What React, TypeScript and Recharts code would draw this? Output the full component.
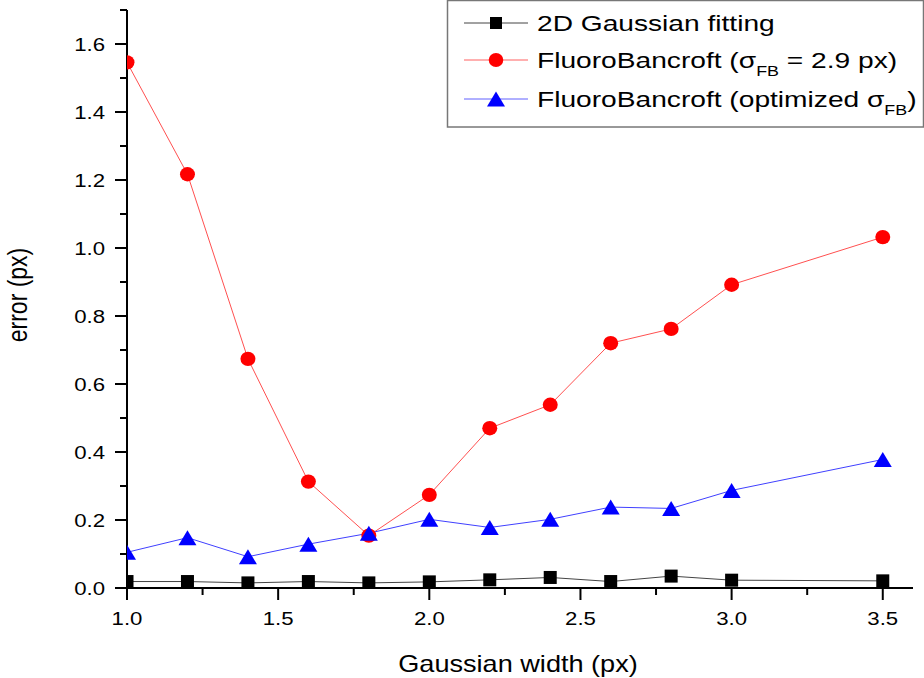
import { LineChart, Line, XAxis, YAxis, Legend } from 'recharts'

// Gaussian width (px) of the simulated spots
const widths = [1.0, 1.2, 1.4, 1.6, 1.8, 2.0, 2.2, 2.4, 2.6, 2.8, 3.0, 3.5]

// localisation error (px) for each method
const gaussFit = [0.019, 0.019, 0.015, 0.019, 0.015, 0.018, 0.024, 0.031, 0.019, 0.035, 0.023, 0.021]
const fbFixed = [1.546, 1.217, 0.674, 0.313, 0.154, 0.274, 0.47, 0.539, 0.72, 0.762, 0.892, 1.032]
const fbOptimized = [0.105, 0.148, 0.092, 0.129, 0.161, 0.202, 0.178, 0.202, 0.238, 0.234, 0.287, 0.378]

const xTicks = [1.0, 1.25, 1.5, 1.75, 2.0, 2.25, 2.5, 2.75, 3.0, 3.25, 3.5]
const yTicks = [0, 0.1, 0.2, 0.3, 0.4, 0.5, 0.6, 0.7, 0.8, 0.9, 1.0, 1.1, 1.2, 1.3, 1.4, 1.5, 1.6, 1.7]

const rows = widths.map((w, i) => ({
  w,
  gauss: gaussFit[i],
  fixed: fbFixed[i],
  optimized: fbOptimized[i],
}))

const W = 924
const H = 678
const M = { top: 10, right: 11, bottom: 0, left: 0 }
const Y_AXIS_W = 127
const X_AXIS_H = 90
const PLOT = {
  x: M.left + Y_AXIS_W,
  y: M.top,
  w: W - M.left - M.right - Y_AXIS_W,
  h: H - M.top - M.bottom - X_AXIS_H,
}

const FONT = '"Liberation Sans", Arial, sans-serif'
const STRETCH = 1.2
const CLIP = 'url(#plot-clip)'

const isMajor = (v: number, step: number) => Math.abs(v / step - Math.round(v / step)) < 1e-6

function XTick(props: any) {
  const { x, y, payload } = props
  const major = isMajor(payload.value, 0.5)
  return (
    <g>
      <line x1={x} x2={x} y1={y} y2={y + (major ? 12 : 7)} stroke="#000" strokeWidth={2} />
      {major && (
        <g transform={`translate(${x}, ${y + 37}) scale(${STRETCH}, 1)`}>
          <text x={0} y={0} textAnchor="middle" fontSize={18.5} fontFamily={FONT} fill="#000">
            {payload.value.toFixed(1)}
          </text>
        </g>
      )}
    </g>
  )
}

function YTick(props: any) {
  const { x, y, payload } = props
  const major = isMajor(payload.value, 0.2)
  return (
    <g>
      <line x1={x - (major ? 12 : 7)} x2={x} y1={y} y2={y} stroke="#000" strokeWidth={2} />
      {major && (
        <g transform={`translate(${x - 22}, ${y + 6.5}) scale(${STRETCH}, 1)`}>
          <text x={0} y={0} textAnchor="end" fontSize={18.5} fontFamily={FONT} fill="#000">
            {payload.value.toFixed(1)}
          </text>
        </g>
      )}
    </g>
  )
}

// marker shapes; sizes are fixed here so the chart's default dot radius is ignored
function Square({ cx, cy, size = 13, clip }: any) {
  if (cx == null || cy == null) return null
  return (
    <rect x={cx - size / 2} y={cy - size / 2} width={size} height={size} fill="#000" clipPath={clip} />
  )
}

function Circle({ cx, cy, rad = 7.2, clip }: any) {
  if (cx == null || cy == null) return null
  return <ellipse cx={cx} cy={cy} rx={rad * 1.04} ry={rad} fill="#ff0000" clipPath={clip} />
}

function Triangle({ cx, cy, w = 18, h = 15, clip }: any) {
  if (cx == null || cy == null) return null
  const d = `M${cx},${cy - h / 2} L${cx + w / 2},${cy + h / 2} L${cx - w / 2},${cy + h / 2} Z`
  return <path d={d} fill="#0000ff" clipPath={clip} />
}

function LegendBox() {
  const lineX1 = 17
  const lineX2 = 81
  const markX = 49
  const textX = 90
  const sub = { fontSize: 14 }
  return (
    <svg width={477} height={128} style={{ display: 'block', overflow: 'visible' }}>
      {/* plot-area clip used by the series markers (user space of the chart svg) */}
      <defs>
        <clipPath id="plot-clip" clipPathUnits="userSpaceOnUse">
          <rect x={PLOT.x} y={PLOT.y} width={PLOT.w} height={PLOT.h} />
        </clipPath>
      </defs>
      <rect x={0.5} y={0.5} width={476} height={126.5} fill="#fff" stroke="#777" strokeWidth={1.5} />

      <line x1={lineX1} x2={lineX2} y1={23} y2={23} stroke="#444" strokeWidth={1} />
      <Square cx={markX} cy={23} size={12} />
      <g transform={`translate(${textX}, 31) scale(1.28, 1)`}>
        <text fontSize={22} fontFamily={FONT} fill="#000">2D Gaussian fitting</text>
      </g>

      <line x1={lineX1} x2={lineX2} y1={60} y2={60} stroke="#ff6060" strokeWidth={1} />
      <Circle cx={markX} cy={60} rad={7} />
      <g transform={`translate(${textX}, 68) scale(1.28, 1)`}>
        <text fontSize={22} fontFamily={FONT} fill="#000">
          FluoroBancroft (σ
          <tspan {...sub} dy={8}>FB</tspan>
          <tspan dy={-8}> = 2.9 px)</tspan>
        </text>
      </g>

      <line x1={lineX1} x2={lineX2} y1={99} y2={99} stroke="#6060ff" strokeWidth={1} />
      <Triangle cx={markX} cy={99} w={18} h={15} />
      <g transform={`translate(${textX}, 107) scale(1.28, 1)`}>
        <text fontSize={22} fontFamily={FONT} fill="#000">
          FluoroBancroft (optimized σ
          <tspan {...sub} dy={8}>FB</tspan>
          <tspan dy={-8}>)</tspan>
        </text>
      </g>
    </svg>
  )
}

export default function App() {
  return (
    <div style={{ position: 'absolute', left: 0, top: 0, width: W, height: H, background: '#fff' }}>
      <LineChart width={W} height={H} data={rows} margin={M}>
        <XAxis
          type="number"
          dataKey="w"
          domain={[1.0, 3.6]}
          ticks={xTicks}
          allowDataOverflow
          height={X_AXIS_H}
          tickSize={0}
          tickMargin={0}
          tickLine={false}
          axisLine={{ stroke: '#000', strokeWidth: 2 }}
          tick={<XTick />}
          interval={0}
          label={{
            content: () => (
              <g transform={`translate(518, 672) scale(1.13, 1)`}>
                <text x={0} y={0} textAnchor="middle" fontSize={24} fontFamily={FONT} fill="#000">
                  Gaussian width (px)
                </text>
              </g>
            ),
          }}
        />
        <YAxis
          type="number"
          domain={[0, 1.7]}
          ticks={yTicks}
          allowDataOverflow
          width={Y_AXIS_W}
          tickSize={0}
          tickMargin={0}
          tickLine={false}
          axisLine={{ stroke: '#000', strokeWidth: 2 }}
          tick={<YTick />}
          interval={0}
          label={{
            content: () => (
              <g transform={`translate(27, 295) scale(${STRETCH}, 1) rotate(-90)`}>
                <text x={0} y={0} textAnchor="middle" fontSize={23} fontFamily={FONT} fill="#000">
                  error (px)
                </text>
              </g>
            ),
          }}
        />
        <Legend
          layout="vertical"
          align="center"
          verticalAlign="middle"
          content={() => <LegendBox />}
          wrapperStyle={{ position: 'absolute', left: 447, top: 0, width: 477, height: 128 }}
        />
        <Line
          dataKey="gauss"
          type="linear"
          stroke="#444"
          strokeWidth={1}
          dot={(p: any) => <Square key={`sq-${p.index}`} cx={p.cx} cy={p.cy} clip={CLIP} />}
          isAnimationActive={false}
        />
        <Line
          dataKey="fixed"
          type="linear"
          stroke="#ff5050"
          strokeWidth={1}
          dot={(p: any) => <Circle key={`ci-${p.index}`} cx={p.cx} cy={p.cy} clip={CLIP} />}
          isAnimationActive={false}
        />
        <Line
          dataKey="optimized"
          type="linear"
          stroke="#4040ff"
          strokeWidth={1}
          dot={(p: any) => <Triangle key={`tr-${p.index}`} cx={p.cx} cy={p.cy} clip={CLIP} />}
          isAnimationActive={false}
        />
      </LineChart>
    </div>
  )
}
